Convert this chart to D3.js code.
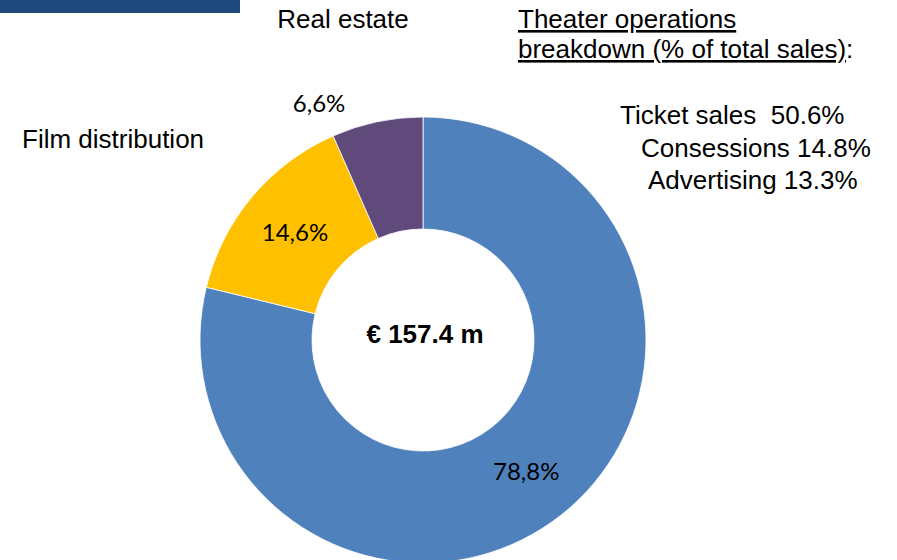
<!DOCTYPE html>
<html lang="en">
<head>
    <meta charset="UTF-8">
    <title>Sales breakdown</title>
    <style>
        body { margin: 0; background: #fff; }
        text { font-family: "Liberation Sans", Arial, sans-serif; fill: #000; }
        .pct { font-family: Lato, "Open Sans", sans-serif; font-size: 24px; }
    </style>
</head>
<body>
    <svg id="chart" width="897" height="560"></svg>
    <script src="https://d3js.org/d3.v7.min.js"></script>
    <script>
        // slice data, clockwise from 12 o'clock
        var segments = ["Theater operations", "Film distribution", "Real estate"];
        var shares = [78.8, 14.6, 6.6];
        var totalLabel = "€ 157.4 m";

        // theater operations breakdown
        var breakdownItems = ["Ticket sales ", "Consessions", "Advertising"];
        var breakdownValues = [50.6, 14.8, 13.3];

        var width = 897, height = 560;
        var cx = 423, cy = 340, outerR = 223, innerR = 111;

        var svg = d3.select("#chart");

        // dark strip top left
        svg.append("rect")
           .attr("x", 0).attr("y", 0)
           .attr("width", 240).attr("height", 13)
           .attr("fill", "#1f497d");

        var color = d3.scaleOrdinal()
                      .domain(segments)
                      .range(["#4f81bd", "#ffc000", "#604a7b"]);

        var pie = d3.pie().sort(null).value(function(d) { return d.value; });
        var arcs = pie(segments.map(function(s, i) { return { name: s, value: shares[i] }; }));

        var arc = d3.arc().innerRadius(innerR).outerRadius(outerR);

        var g = svg.append("g")
                   .attr("transform", "translate(" + cx + "," + cy + ")");

        g.selectAll(".slice")
         .data(arcs)
         .enter().append("path")
         .attr("class", "slice")
         .attr("d", arc)
         .attr("fill", function(d) { return color(d.data.name); })
         .attr("stroke", "#fff")
         .attr("stroke-width", 0.8);

        var fmtPct = function(v) { return d3.format(".1f")(v).replace(".", ",") + "%"; };

        // labels: inside for big slices, outside near the start edge for the small one
        var outsideArc = d3.arc().innerRadius(258).outerRadius(258);
        g.selectAll(".pct")
         .data(arcs)
         .enter().append("text")
         .attr("class", "pct")
         .attr("text-anchor", "middle")
         .attr("dy", "0.35em")
         .attr("transform", function(d) {
             var p;
             if (d.data.value < 10) {
                 p = outsideArc.centroid({ startAngle: d.startAngle, endAngle: d.startAngle });
             } else {
                 p = arc.centroid(d);
             }
             return "translate(" + p[0] + "," + p[1] + ")";
         })
         .text(function(d) { return fmtPct(d.data.value); });

        // centre total
        g.append("text")
         .attr("x", 2).attr("y", 3)
         .attr("text-anchor", "middle")
         .style("font-size", "26px")
         .style("font-weight", "bold")
         .text(totalLabel);

        // category labels
        svg.append("text")
           .attr("x", 343).attr("y", 28)
           .attr("text-anchor", "middle")
           .style("font-size", "26px")
           .text(segments[2]);

        svg.append("text")
           .attr("x", 22).attr("y", 148)
           .style("font-size", "26px")
           .text(segments[1]);

        // breakdown heading
        var head = svg.append("text").style("font-size", "26px");
        head.append("tspan")
            .attr("x", 518).attr("y", 28)
            .style("text-decoration", "underline")
            .text(segments[0]);
        head.append("tspan")
            .attr("x", 518).attr("y", 58)
            .style("text-decoration", "underline")
            .text("breakdown (% of total sales)");
        head.append("tspan").text(":");

        var lineX = [620, 641, 648];
        svg.selectAll(".item")
           .data(breakdownItems)
           .enter().append("text")
           .attr("class", "item")
           .attr("x", function(d, i) { return lineX[i]; })
           .attr("y", function(d, i) { return 124 + i * 32.5; })
           .attr("xml:space", "preserve")
           .style("white-space", "pre")
           .style("font-size", "26px")
           .text(function(d, i) { return d + " " + breakdownValues[i].toFixed(1) + "%"; });
    </script>
</body>
</html>
